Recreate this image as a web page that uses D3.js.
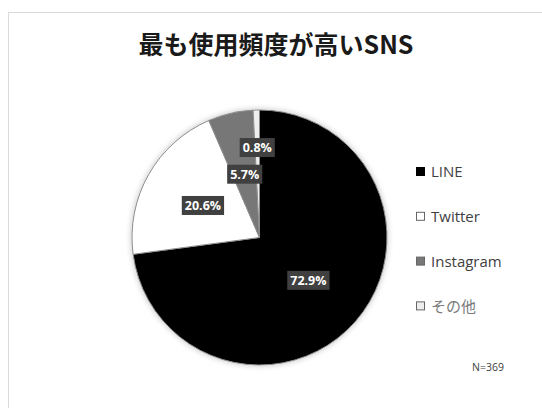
<!DOCTYPE html>
<html>
<head>
<meta charset="utf-8" />
<title>最も使用頻度が高いSNS</title>
<script src="https://d3js.org/d3.v7.min.js"></script>
<style>
  body { margin: 0; background: #fff; }
  svg { display: block; font-family: "Noto Sans CJK JP", "Open Sans", sans-serif; }
</style>
</head>
<body>
<svg id="chart" width="542" height="408"></svg>
<script>
// data
var categories = ["LINE", "Twitter", "Instagram", "その他"];
var shares = [72.9, 20.6, 5.7, 0.8];
var sliceColors = ["#000000", "#ffffff", "#777777", "#eeeeee"];
var sampleNote = "N=369";

var svg = d3.select("#chart");
var width = 542, height = 408;

// chart area border
svg.append("rect")
  .attr("x", 8.5).attr("y", 12.5)
  .attr("width", 560).attr("height", 420)
  .attr("fill", "none")
  .attr("stroke", "#d9d9d9");

svg.append("text")
  .attr("x", 276).attr("y", 54)
  .attr("text-anchor", "middle")
  .attr("font-size", 25)
  .attr("font-weight", "bold")
  .attr("fill", "#1a1a1a")
  .text("最も使用頻度が高いSNS");

// soft glow around the pie
var defs = svg.append("defs");
var f = defs.append("filter").attr("id", "glow")
  .attr("x", "-20%").attr("y", "-20%").attr("width", "140%").attr("height", "140%");
f.append("feGaussianBlur").attr("in", "SourceAlpha").attr("stdDeviation", 3).attr("result", "b");
f.append("feComponentTransfer").append("feFuncA").attr("type", "linear").attr("slope", 0.25);
var merge = f.append("feMerge");
merge.append("feMergeNode");
merge.append("feMergeNode").attr("in", "SourceGraphic");

var data = categories.map(function (c, i) {
  return {name: c, value: shares[i], color: sliceColors[i]};
});

var cx = 259.5, cy = 237.5, r = 127.5;

var pie = d3.pie().sort(null).value(function (d) { return d.value; });
var arc = d3.arc().innerRadius(0).outerRadius(r);
var arcs = pie(data);

var g = svg.append("g").attr("transform", "translate(" + cx + "," + cy + ")");

g.append("g").attr("filter", "url(#glow)")
  .selectAll("path")
  .data(arcs)
  .enter()
  .append("path")
  .attr("d", arc)
  .attr("fill", function (d) { return d.data.color; })
  .attr("stroke", "#8c8c8c")
  .attr("stroke-width", 1)
  .attr("stroke-linejoin", "round");

// data labels
var labelArc = function (d) {
  var rr = (d.endAngle - d.startAngle) < 0.1 ? 90 : 65;
  return d3.arc().innerRadius(rr).outerRadius(rr).centroid(d);
};

var labels = g.selectAll("g.lbl")
  .data(arcs)
  .enter()
  .append("g")
  .attr("class", "lbl")
  .attr("transform", function (d) {
    var p = labelArc(d);
    return "translate(" + p[0] + "," + p[1] + ")";
  });

labels.append("text")
  .attr("text-anchor", "middle")
  .attr("dy", "0.35em")
  .attr("font-family", "'Open Sans', sans-serif")
  .attr("font-size", 12.5)
  .attr("font-weight", "bold")
  .attr("fill", "#ffffff")
  .text(function (d) { return d.data.value.toFixed(1) + "%"; })
  .each(function () {
    var b = this.getBBox();
    d3.select(this.parentNode).insert("rect", "text")
      .attr("x", b.x - 3).attr("y", -9.5)
      .attr("width", b.width + 6).attr("height", 19)
      .attr("fill", "#404040");
  });

// legend
var legend = svg.append("g").attr("transform", "translate(416,172)");
var rows = legend.selectAll("g")
  .data(data)
  .enter()
  .append("g")
  .attr("transform", function (d, i) { return "translate(0," + (i * 44.8) + ")"; });

rows.append("rect")
  .attr("x", 0.5).attr("y", -4.5)
  .attr("width", 8).attr("height", 8)
  .attr("fill", function (d) { return d.color; })
  .attr("stroke", function (d, i) { return i === 0 ? "#000" : "#666"; })
  .attr("stroke-width", 1);

rows.append("text")
  .attr("x", 15).attr("dy", "0.35em")
  .attr("font-family", function (d, i) { return i === 3 ? "'Noto Sans CJK JP', sans-serif" : "'Open Sans', sans-serif"; })
  .attr("font-size", 15)
  .attr("fill", function (d, i) { return i === 3 ? "#7a7a7a" : "#404040"; })
  .text(function (d) { return d.name; });

svg.append("text")
  .attr("x", 488).attr("y", 371)
  .attr("text-anchor", "middle")
  .attr("font-family", "'Open Sans', sans-serif")
  .attr("font-size", 10.5)
  .attr("fill", "#404040")
  .text(sampleNote);
</script>
</body>
</html>
